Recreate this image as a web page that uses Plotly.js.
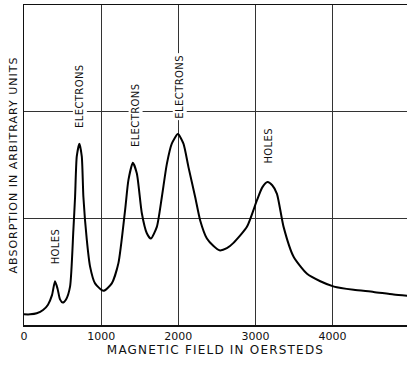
<!DOCTYPE html>
<html>
<head>
<meta charset="utf-8">
<script src="https://cdn.plot.ly/plotly-3.0.1.min.js"></script>
<style>
  html, body { margin: 0; padding: 0; background: #fff; }
  #chart { width: 407px; height: 365px; }
  .xtitle { letter-spacing: 1.2px; }
  .ytitle { letter-spacing: 1.0px; }
  .annotation-text { letter-spacing: 0.4px; }
</style>
</head>
<body>
<div id="chart"></div>
<script>
// Magnetic field (oersteds)
const field = [0, 80, 165, 247, 311, 363, 402, 435, 467, 502, 545, 597, 640, 662, 684, 718, 749, 770, 814, 856, 921, 1029, 1138, 1224, 1311, 1354, 1411, 1463, 1527, 1592, 1644, 1722, 1787, 1852, 1916, 1995, 2067, 2132, 2219, 2284, 2371, 2457, 2534, 2630, 2716, 2890, 3020, 3089, 3157, 3218, 3279, 3365, 3495, 3669, 3841, 4019, 4273, 4533, 4792, 4970];
// Absorption (arbitrary units)
const absorption = [0.10, 0.10, 0.11, 0.14, 0.19, 0.28, 0.41, 0.34, 0.24, 0.21, 0.24, 0.36, 0.89, 1.20, 1.58, 1.70, 1.58, 1.20, 0.80, 0.55, 0.39, 0.32, 0.39, 0.58, 1.08, 1.36, 1.52, 1.42, 1.05, 0.86, 0.81, 0.92, 1.20, 1.51, 1.70, 1.79, 1.70, 1.48, 1.20, 0.98, 0.81, 0.74, 0.70, 0.72, 0.77, 0.92, 1.17, 1.29, 1.34, 1.31, 1.23, 0.92, 0.64, 0.48, 0.41, 0.36, 0.33, 0.31, 0.285, 0.275];

const xTicks = [0, 1000, 2000, 3000, 4000];
const xTickText = ['0', '1000', '2000', '3000', '4000'];

const peakLabels = ['HOLES', 'ELECTRONS', 'ELECTRONS', 'ELECTRONS', 'HOLES'];
const labelField = [402, 728, 1440, 2015, 3170];
const labelLevel = [0.55, 1.83, 1.65, 1.92, 1.49];

const font = 'DejaVu Sans, Liberation Sans, Arial, sans-serif';

const annotations = peakLabels.map((t, i) => ({
  x: labelField[i], y: labelLevel[i], xref: 'x', yref: 'y',
  text: t, showarrow: false, textangle: -90,
  xanchor: 'center', yanchor: 'bottom',
  font: {family: font, size: 10, color: '#111'},
  bgcolor: '#ffffff', borderpad: 1
}));

const data = [{
  x: field, y: absorption, type: 'scatter', mode: 'lines',
  line: {color: '#000', width: 2, shape: 'spline', smoothing: 0.6},
  hoverinfo: 'skip'
}];

const layout = {
  width: 407, height: 365,
  margin: {l: 24, r: 0, t: 5, b: 40},
  paper_bgcolor: '#fff', plot_bgcolor: '#fff',
  showlegend: false,
  xaxis: {
    range: [0, 4965], tickvals: xTicks, ticktext: xTickText,
    showgrid: true, gridcolor: '#333', gridwidth: 1,
    zeroline: false, showline: true, linecolor: '#111', linewidth: 1.5, mirror: true,
    ticks: '', ticklen: 0,
    tickfont: {family: font, size: 11, color: '#111'},
    title: {text: 'MAGNETIC FIELD IN OERSTEDS', standoff: 4,
            font: {family: font, size: 12, color: '#111'}}
  },
  yaxis: {
    range: [0, 3], tickvals: [1, 2], showticklabels: false,
    showgrid: true, gridcolor: '#333', gridwidth: 1,
    zeroline: false, showline: true, linecolor: '#111', linewidth: 1.5,
    ticks: '',
    title: {text: 'ABSORPTION IN ARBITRARY UNITS', standoff: 2,
            font: {family: font, size: 11, color: '#111'}}
  },
  annotations: annotations
};

Plotly.newPlot('chart', data, layout, {staticPlot: true, displayModeBar: false});
</script>
</body>
</html>
